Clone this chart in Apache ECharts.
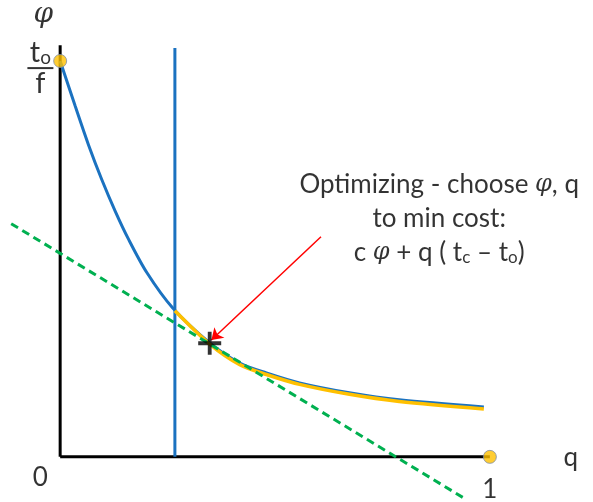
<!DOCTYPE html>
<html>
<head>
<meta charset="utf-8">
<script src="https://cdn.jsdelivr.net/npm/echarts@6/dist/echarts.min.js"></script>
<style>
  html, body { margin: 0; padding: 0; background: #fff; }
  #chart { width: 593px; height: 502px; }
</style>
</head>
<body>
<div id="chart"></div>
<script>
// cost curve phi(q)
var curveQ = [0, 0.035, 0.066, 0.097, 0.128, 0.159, 0.202, 0.262, 0.348, 0.418, 0.480, 0.557, 0.673, 0.789, 0.986]
var curvePhi = [1.0, 0.886, 0.788, 0.700, 0.621, 0.550, 0.465, 0.376, 0.288, 0.237, 0.212, 0.187, 0.162, 0.144, 0.126]
// feasible part (yellow)
var feasQ = [0.267, 0.348, 0.418, 0.480, 0.557, 0.673, 0.789, 0.986]
var feasPhi = [0.369, 0.285, 0.233, 0.208, 0.183, 0.158, 0.140, 0.121]
// vertical constraint
var constraintQ = [0.267, 0.267]
var constraintPhi = [0, 1.033]
// iso-cost tangent line
var tangentQ = [-0.114, 0.944]
var tangentPhi = [0.589, -0.107]
// optimum
var optQ = [0.348]
var optPhi = [0.287]
// end points
var dotQ = [0, 1]
var dotPhi = [1, 0]
// axes
var axisXQ = [0, 1]
var axisXPhi = [0, 0]
var axisYQ = [0, 0]
var axisYPhi = [0, 1.04]
// arrow
var arrowFrom = [0.607, 0.556]
var arrowTo = [0.352, 0.295]

function pts (xs, ys) {
  return xs.map(function (x, i) { return [x, ys[i]] })
}

var chart = echarts.init(document.getElementById('chart'))
var font = 'Lato'
var option = {
  animation: false,
  grid: { left: 0, right: 0, top: 0, bottom: 0 },
  xAxis: { type: 'value', min: -0.14, max: 1.24, show: false },
  yAxis: { type: 'value', min: -0.114, max: 1.154, show: false },
  series: [
    {
      type: 'line', data: pts(axisXQ, axisXPhi), symbol: 'none',
      lineStyle: { color: '#000', width: 3 }
    },
    {
      type: 'line', data: pts(axisYQ, axisYPhi), symbol: 'none',
      lineStyle: { color: '#000', width: 3 }
    },
    {
      type: 'line', data: pts(constraintQ, constraintPhi), symbol: 'none',
      lineStyle: { color: '#1b72c0', width: 3 }
    },
    {
      type: 'line', data: pts(curveQ, curvePhi), symbol: 'none', smooth: 0.3,
      lineStyle: { color: '#1b72c0', width: 3 }
    },
    {
      type: 'line', data: pts(feasQ, feasPhi), symbol: 'none', smooth: 0.3,
      lineStyle: { color: '#ffc000', width: 3.5 }
    },
    {
      type: 'line', data: pts(tangentQ, tangentPhi), symbol: 'none',
      lineStyle: { color: '#00b050', width: 3, type: [8, 5] }
    },
    {
      type: 'lines', coordinateSystem: 'cartesian2d',
      symbol: ['none', 'arrow'], symbolSize: 11,
      lineStyle: { color: '#ff0000', width: 1.5, opacity: 1 },
      data: [{ coords: [arrowFrom, arrowTo] }]
    },
    {
      type: 'scatter', data: pts(optQ, optPhi),
      symbol: 'path://M10,0h4v10h10v4h-10v10h-4v-10h-10v-4h10z',
      symbolSize: 23, itemStyle: { color: '#000' }, z: 5
    },
    {
      type: 'scatter', data: pts(dotQ, dotPhi), symbolSize: 13,
      itemStyle: { color: '#ffc000', borderColor: '#7f8fa6', borderWidth: 1 }, z: 6
    },
    {
      type: 'scatter', symbolSize: 0, silent: true,
      label: {
        show: true, position: 'inside', color: '#000', fontFamily: font, fontSize: 26,
        formatter: function (p) { return p.data.text },
        rich: {
          i: { fontFamily: 'DejaVu Serif', fontStyle: 'italic', fontSize: 28 },
          t: { fontFamily: font, fontSize: 29 },
          sub: { fontFamily: font, fontSize: 19, verticalAlign: 'bottom', padding: [8, 0, 0, 0] },
          bar: { width: 26, height: 2, backgroundColor: '#000' },
          l: { fontFamily: font, fontSize: 26, lineHeight: 34 },
          li: { fontFamily: 'DejaVu Serif', fontStyle: 'italic', fontSize: 24, lineHeight: 34 },
          ls: { fontFamily: font, fontSize: 17, lineHeight: 34, padding: [10, 0, 0, 0] }
        }
      },
      data: [
        { value: [-0.039, 1.116], text: '{i|φ}' },
        { value: [-0.046, 0.982], text: '{t|t}{sub|o}\n{bar|}\n{t|f}' },
        { value: [-0.046, -0.053], text: '0' },
        { value: [1.0, -0.083], text: '1' },
        { value: [1.188, -0.003], text: 'q' },
        { value: [0.882, 0.601], text: '{l|Optimizing - choose }{li|φ}{l|, q}\n{l|to min cost:}\n{l|c }{li|φ}{l| + q ( t}{ls|c}{l| – t}{ls|o}{l|)}' }
      ]
    }
  ]
}
chart.setOption(option)
window.addEventListener('resize', function () { chart.resize() })
</script>
</body>
</html>
